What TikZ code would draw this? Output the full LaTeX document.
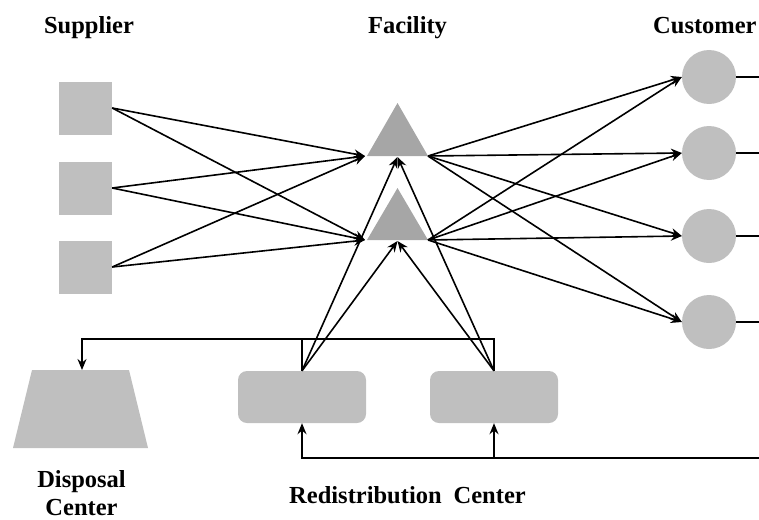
\documentclass[tikz,border=0pt]{standalone}
\usepackage{fontspec}
\setmainfont{Liberation Serif}
\usetikzlibrary{arrows.meta}
\definecolor{boxgray}{HTML}{BFBFBF}
\definecolor{trigray}{HTML}{A6A6A6}
\begin{document}
\begin{tikzpicture}[x=1pt,y=-1pt,
  conn/.style={line width=1.6pt,-{Stealth[length=11pt,width=9pt]}},
  plain/.style={line width=1.6pt},
  supbox/.style={rectangle,fill=boxgray,minimum size=53pt,inner sep=0pt},
  custnode/.style={circle,fill=boxgray,minimum size=54pt,inner sep=0pt},
  redistbox/.style={rectangle,rounded corners=9pt,fill=boxgray,minimum width=128pt,minimum height=52pt,inner sep=0pt},
  lbl/.style={font=\fontsize{24.5}{30}\selectfont\bfseries,inner sep=0pt}]
\useasboundingbox (0,0) rectangle (759,519);
% labels
\node[lbl,anchor=base] (tsup) at (89,34) {Supplier};
\node[lbl,anchor=base] (tfac) at (407.5,34) {Facility};
\node[lbl,anchor=base west] (tcus) at (653,34) {Customer};
\node[lbl,anchor=base] (tdis1) at (81.5,487) {Disposal};
\node[lbl,anchor=base] (tdis2) at (81.5,515) {Center};
\node[lbl,anchor=base] (tred) at (407.5,503) {Redistribution\hspace{12pt}Center};
% suppliers
\node[supbox] (s1) at (85.5,108) {};
\node[supbox] (s2) at (85.5,188) {};
\node[supbox] (s3) at (85.5,267) {};
% facilities (triangles)
\fill[trigray] (397.5,103) -- (428,156) -- (367,156) -- cycle;
\fill[trigray] (397.5,188) -- (428,240) -- (367,240) -- cycle;
\coordinate (f1in) at (365,156);
\coordinate (f1out) at (428,156);
\coordinate (f1bot) at (397.5,157);
\coordinate (f2in) at (365,240);
\coordinate (f2out) at (428,240);
\coordinate (f2bot) at (397.5,241);
% customers
\node[custnode] (c1) at (709,77) {};
\node[custnode] (c2) at (709,153) {};
\node[custnode] (c3) at (709,236) {};
\node[custnode] (c4) at (709,322) {};
\coordinate (redge) at (759,458);
% redistribution centres
\node[redistbox] (r1) at (302,397) {};
\node[redistbox] (r2) at (494,397) {};
% disposal centre
\fill[boxgray] (32,370) -- (129,370) -- (148,448) -- (13,448) -- cycle;
\coordinate (dtop) at (82,370);
% supplier -> facility
\foreach \s in {s1,s2,s3}{
  \draw[conn] (\s.east) -- (f1in);
  \draw[conn] (\s.east) -- (f2in);
}
% facility -> customer
\foreach \c in {c1,c2,c3,c4}{
  \draw[conn] (f1out) -- (\c.west);
  \draw[conn] (f2out) -- (\c.west);
  \draw[plain] (\c.east) -- (\c.east -| redge);
}
% redistribution -> facility
\foreach \r in {r1,r2}{
  \draw[conn] (\r.north) -- (f1bot);
  \draw[conn] (\r.north) -- (f2bot);
}
% redistribution -> disposal
\draw[plain] (r1.north) -- ++(0,-32);
\draw[conn] (r2.north) -- ++(0,-32) -| (dtop);
% return flow from customers
\draw[conn] (redge) -| (r1.south);
\draw[conn] (r2.south |- redge) -- (r2.south);
\end{tikzpicture}
\end{document}
